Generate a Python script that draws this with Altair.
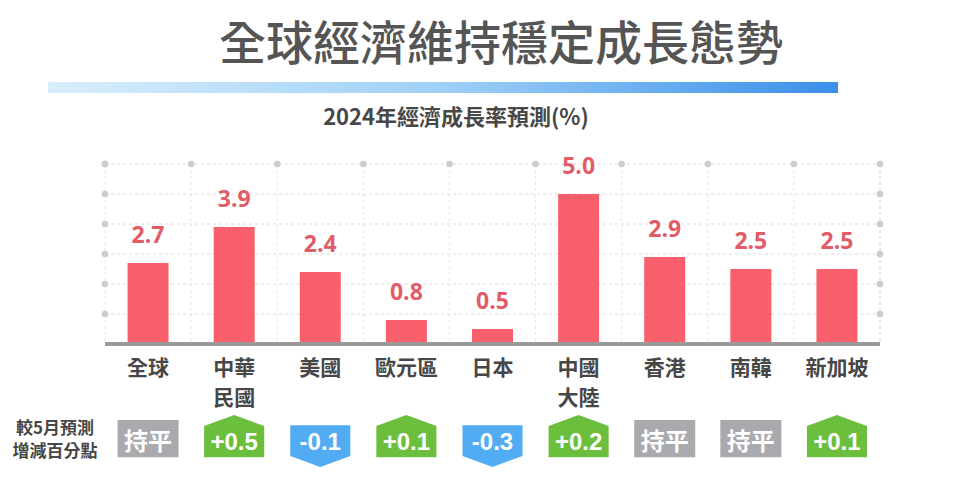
import altair as alt
import pandas as pd

# ---- data ----
categories = ["全球", "中華\n民國", "美國", "歐元區", "日本", "中國\n大陸", "香港", "南韓", "新加坡"]
growth = [2.7, 3.9, 2.4, 0.8, 0.5, 5.0, 2.9, 2.5, 2.5]
change_labels = ["持平", "+0.5", "-0.1", "+0.1", "-0.3", "+0.2", "持平", "持平", "+0.1"]
change_kind = ["flat", "up", "down", "up", "down", "up", "flat", "flat", "up"]
grid_values = [1, 2, 3, 4, 5, 6]

TITLE = "全球經濟維持穩定成長態勢"
SUBTITLE = "2024年經濟成長率預測(%)"
SIDE_LABEL = "較5月預測\n增減百分點"

W, H = 775, 180
CJK = "Noto Sans CJK TC"

df = pd.DataFrame({
    "cat": categories,
    "v": growth,
    "lbl": [f"{g:.1f}" for g in growth],
    "chg": change_labels,
    "kind": change_kind,
})
grid_df = pd.DataFrame({"g": grid_values})

xscale = alt.Scale(domain=categories, paddingInner=0, paddingOuter=0)
yscale = alt.Scale(domain=[0, 6], nice=False)
X = alt.X("cat:N", scale=xscale, axis=None, sort=categories)
Xedge = alt.X("cat:N", scale=xscale, axis=None, sort=categories, bandPosition=0)

base = alt.Chart(df)

# grid lines
hgrid = alt.Chart(grid_df).mark_rule(color="#dcdcdc", strokeDash=[3, 3], strokeWidth=1).encode(
    y=alt.Y("g:Q", scale=yscale, axis=None), x=alt.value(0), x2=alt.value(W))
vgrid = base.mark_rule(color="#e8e8e8", strokeDash=[3, 3], strokeWidth=1).encode(
    x=Xedge, y=alt.value(0), y2=alt.value(H))
vgrid_r = alt.Chart(grid_df).mark_rule(color="#e8e8e8", strokeDash=[3, 3], strokeWidth=1).encode(
    x=alt.value(W), y=alt.value(0), y2=alt.value(H))

dot_style = dict(filled=True, color="#cdcdcd", opacity=1, size=45, shape="circle")
dots_left = alt.Chart(grid_df).mark_point(**dot_style).encode(
    y=alt.Y("g:Q", scale=yscale, axis=None), x=alt.value(0))
dots_right = alt.Chart(grid_df).mark_point(**dot_style).encode(
    y=alt.Y("g:Q", scale=yscale, axis=None), x=alt.value(W))
dots_top = base.mark_point(**dot_style).encode(x=Xedge, y=alt.value(0))

bars = base.mark_bar(color="#f95f6a", width=alt.RelativeBandSize(0.476)).encode(
    x=X, y=alt.Y("v:Q", scale=yscale, axis=None))
labels = base.mark_text(color="#e25c67", font="Open Sans", fontSize=23, fontWeight="bold",
                        baseline="middle", dy=-27).encode(
    x=X, y=alt.Y("v:Q", scale=yscale, axis=None), text="lbl:N")

baseline = alt.Chart(grid_df).mark_rule(color="#9a9a9a", strokeWidth=3).encode(
    x=alt.value(0), x2=alt.value(W), y=alt.value(H))

cat_labels = base.mark_text(font=CJK, fontSize=21, fontWeight="bold", color="#474747",
                            baseline="top", lineBreak="\n", lineHeight=30).encode(
    x=X, y=alt.value(194), text="cat:N")

# badges
paths = {
    "flat": "M-1,-0.69 L1,-0.69 L1,0.53 L-1,0.53 Z",
    "up": "M-0.985,-0.49 L0,-0.85 L0.985,-0.49 L0.985,0.53 L-0.985,0.53 Z",
    "down": "M-0.985,-0.52 L0.985,-0.52 L0.985,0.49 L0,0.85 L-0.985,0.49 Z",
}
colors = {"flat": "#a9a9ae", "up": "#6cbf3d", "down": "#52acf3"}
badges = []
for k in ["flat", "up", "down"]:
    badges.append(
        base.transform_filter(alt.datum.kind == k).mark_point(
            shape=paths[k], filled=True, color=colors[k], opacity=1, size=3721, strokeWidth=0
        ).encode(x=X, y=alt.value(277))
    )
badge_text = base.mark_text(font="Liberation Sans, " + CJK, fontSize=24, fontWeight="bold",
                            color="white", baseline="middle").encode(
    x=X, y=alt.value(279), text="chg:N")

side = alt.Chart(grid_df.head(1)).mark_text(font=CJK, fontSize=17, fontWeight="bold", color="#474747",
                                           baseline="top", lineBreak="\n", lineHeight=23).encode(
    x=alt.value(55 - 105), y=alt.value(257), text=alt.value(SIDE_LABEL))

# header
gradient = alt.Chart(grid_df.head(1)).mark_rect(
    color=alt.Gradient(gradient="linear", x1=0, x2=1, y1=0, y2=0,
                       stops=[alt.GradientStop(offset=0, color="#d9eefc"),
                              alt.GradientStop(offset=0.5, color="#9fd0f7"),
                              alt.GradientStop(offset=1, color="#3a8fea")])
).encode(x=alt.value(48 - 105), x2=alt.value(838 - 105), y=alt.value(82 - 164), y2=alt.value(93 - 164))

title = alt.Chart(grid_df.head(1)).mark_text(font=CJK, fontSize=47, fontWeight=500, color="#555555",
                                            baseline="middle").encode(
    x=alt.value(501 - 105), y=alt.value(46 - 164), text=alt.value(TITLE))
subtitle = alt.Chart(grid_df.head(1)).mark_text(font=CJK, fontSize=22, fontWeight="bold", color="#474747",
                                               baseline="middle").encode(
    x=alt.value(456 - 105), y=alt.value(118 - 164), text=alt.value(SUBTITLE))

chart = alt.layer(
    hgrid, vgrid, vgrid_r, dots_left, dots_right, dots_top, bars, labels, baseline,
    cat_labels, *badges, badge_text, side, gradient, title, subtitle
).properties(
    width=W, height=H,
    autosize=alt.AutoSizeParams(type="none"),
    padding={"left": 105, "top": 164, "right": 80, "bottom": 136},
    background="white",
).configure_view(strokeWidth=0)

chart.save("out.html", embed_options={"renderer": "svg", "actions": False})
